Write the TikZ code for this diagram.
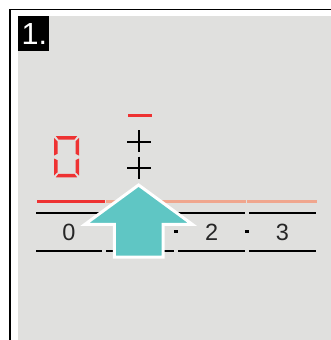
\documentclass[tikz,border=0pt]{standalone}
\usepackage{fontspec}
\setmainfont{Liberation Sans}
\definecolor{panelgray}{RGB}{224,224,222}
\definecolor{segred}{RGB}{238,50,50}
\definecolor{salmon}{RGB}{240,166,142}
\definecolor{teal}{RGB}{95,198,196}
\tikzset{
  blackline/.style={line width=1.9pt, black},
  redline/.style={line width=2.7pt, segred},
  salmonline/.style={line width=2.7pt, salmon},
  segment/.style={fill=segred, draw=none},
  crossline/.style={line width=2pt, black},
  digit/.style={inner sep=0pt, font=\fontsize{23.5}{24}\selectfont, text=black!85},
  dotmark/.style={fill=black, draw=none},
  bigarrow/.style={fill=teal, draw=white, line width=3pt, line join=miter, miter limit=10}
}
\begin{document}
\begin{tikzpicture}[x=1pt,y=-1pt]
\useasboundingbox (0,0) rectangle (331,340);
\fill[white] (0,0) rectangle (331,340);
% frame
\draw[line width=1.5pt] (10.2,341) -- (10.2,9.7) -- (332,9.7);
\fill[panelgray] (17.5,15.7) rectangle (331,340);
% step label
\fill[black] (18,15.5) rectangle (49,51.2);
\node[inner sep=0pt, anchor=base west, text=white, font=\fontsize{30.5}{31}\selectfont] (steplabel) at (21.5,44.7) {1.};
% seven-segment zero
\fill[segment] (55.8,136) -- (77.2,136) -- (74.5,139.5) -- (58.5,139.5) -- cycle;
\fill[segment] (55.8,177.3) -- (77.2,177.3) -- (74.5,173.8) -- (58.5,173.8) -- cycle;
\fill[segment] (54,137.8) -- (57.5,141.3) -- (57.5,153.8) -- (54,155.5) -- cycle;
\fill[segment] (54,158.5) -- (57.5,160.2) -- (57.5,172.3) -- (54,175.5) -- cycle;
\fill[segment] (79,137.8) -- (75.5,141.3) -- (75.5,153.8) -- (79,155.5) -- cycle;
\fill[segment] (79,158.5) -- (75.5,160.2) -- (75.5,172.3) -- (79,175.5) -- cycle;
% red dash and crosses
\draw[line width=2.7pt, segred] (128,115.5) -- (152,115.5);
\coordinate (c1t) at (139,130);
\coordinate (c1b) at (139,151.8);
\coordinate (c1l) at (127.3,141.7);
\coordinate (c1r) at (150.7,141.7);
\coordinate (c2t) at (139,156.7);
\coordinate (c2b) at (139,179);
\coordinate (c2l) at (127.3,167.5);
\coordinate (c2r) at (150.7,167.5);
\draw[crossline] (c1t) -- (c1b);
\draw[crossline] (c1l) -- (c1r);
\draw[crossline] (c2t) -- (c2b);
\draw[crossline] (c2l) -- (c2r);
% red / salmon indicator
\draw[redline] (37,201.3) -- (105,201.3);
\draw[salmonline] (106,201.3) -- (245.8,201.3);
\draw[salmonline] (247.3,201.3) -- (316.7,201.3);
% black rails
\foreach \a/\b in {36/102,106/174,178.3/245,249/316}{
  \draw[blackline] (\a,212.8) -- (\b,212.8);
  \draw[blackline] (\a,251.2) -- (\b,251.2);
}
% digits
\node[digit] (d0) at (68.8,232.7) {0};
\node[digit] (d1) at (140,232.7) {1};
\node[digit] (d2) at (211.7,232.7) {2};
\node[digit] (d3) at (282.5,232.7) {3};
\fill[dotmark] (174.2,230) rectangle (177.7,233.4);
\fill[dotmark] (245.1,230) rectangle (248.6,233.4);
% arrow
\draw[bigarrow] (138.6,185) -- (85,224.3) -- (114.3,224.3) -- (114.3,257) -- (163,257) -- (163,224.3) -- (192.2,224.3) -- cycle;
\end{tikzpicture}
\end{document}
